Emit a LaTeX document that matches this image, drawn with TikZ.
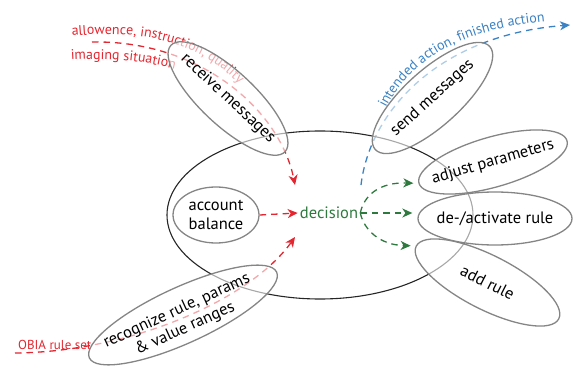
\documentclass[tikz,border=0pt]{standalone}
\usepackage{fontspec}
\setmainfont{PT Sans}
\usetikzlibrary{shapes.geometric,arrows.meta,decorations.text,backgrounds,calc}
\definecolor{lred}{HTML}{E3262F}
\definecolor{lblue}{HTML}{3A82C4}
\definecolor{lgreen}{HTML}{2E7A3E}
\definecolor{egray}{HTML}{858585}
\newcommand\labfont{\fontsize{14}{16}\selectfont}
\newcommand\obfont{\fontsize{13}{15}\selectfont}
\newcommand\elfont{\fontsize{16.5}{19.5}\selectfont}
\begin{document}
\begin{tikzpicture}[x=1pt,y=-1pt,
  ell/.style={ellipse, draw=egray, line width=1.3pt, fill=white, fill opacity=0.6, draw opacity=1, inner sep=0pt},
  etxt/.style={font=\elfont, text=black, inner sep=0pt, align=center},
  dline/.style={dash pattern=on 6.5pt off 5pt, line width=1.3pt},
  headed/.style={-{Stealth[length=10pt,width=9pt,inset=3pt]}}
]
\useasboundingbox (0,0) rectangle (573,366);

% main ellipse
\node[ellipse, draw=black!85, line width=1.1pt, minimum width=306pt, minimum height=168pt, inner sep=0pt] (main) at (320,215) {};

% inner nodes
\node[ell, minimum width=86pt, minimum height=56pt] (acc) at (216,215) {};
\node[etxt] (acct) at (acc) {account\\balance};
\node[font=\elfont, text=lgreen, inner sep=2pt] (dec) at (329,213) {decision};

% outer ellipses
\node[ell, minimum width=156pt, minimum height=54pt, rotate=-43] (rm) at (228,98.5) {};
\node[etxt, rotate=-43] (rmt) at (rm) {receive messages};

\node[ell, minimum width=154pt, minimum height=56pt, rotate=42] (sm) at (432.5,98) {};
\node[etxt, rotate=42] (smt) at (sm) {send messages};

\node[ell, minimum width=206pt, minimum height=56pt, rotate=24.6] (rr) at (183,315) {};
\node[etxt, rotate=24.6] (rrt) at ($(rr)+(-2,5)$) {recognize rule, params\\\& value ranges};

\node[ell, minimum width=154pt, minimum height=50pt, rotate=16] (adj) at (493,162) {};
\node[etxt, rotate=16] (adjt) at (adj) {adjust parameters};

\node[ell, minimum width=154pt, minimum height=53pt] (act) at (495,218.5) {};
\node[etxt] (actt) at (act) {de-/activate rule};

\node[ell, minimum width=160pt, minimum height=54pt, rotate=-27] (add) at (487.5,282.5) {};
\node[etxt, rotate=-27] (addt) at (add) {add rule};

% free ends
\coordinate (rmstart) at (92,42);
\coordinate (rmend) at (295,185);
\coordinate (obstart) at (15,353);
\coordinate (obend) at (295,237);
\coordinate (smstart) at (361,185);
\coordinate (smend) at (570,25);

\begin{pgfonlayer}{background}
  % red incoming
  \draw[lred, dline, headed] (rmstart) .. controls (200,40) and (280,110) .. (rmend);
  \draw[lred, dline, headed] (obstart) .. controls (130,352) and (250,300) .. (obend);
  \draw[lred, dline, headed] (acc.east) -- (dec.west);
  % blue outgoing
  \draw[lblue, dline, headed] (smstart) .. controls (370,110) and (440,35) .. (smend);
  % green
  \draw[lgreen, dline, headed, shorten >=5pt] (dec.east) .. controls (364,195) and (380,182) .. (adj.west);
  \draw[lgreen, dline, headed] (dec.east) -- ($(act.west |- dec.east)+(-5,0)$);
  \draw[lgreen, dline, headed, shorten >=5pt] (dec.east) .. controls (364,230) and (380,245) .. (add.west);
  % labels
  \path[decorate, decoration={text along path, text color=lred, text align=left,
      text={|\labfont|allowence, instruction, quality}}]
      (72,36) .. controls (150,28) and (212,45) .. (252,100);
  \path[decorate, decoration={text along path, text color=lred, text align=left,
      text={|\labfont|imaging situation}}]
      (71,60) .. controls (110,58) and (145,60) .. (185,72);
  \path[decorate, decoration={text along path, text color=lblue, text align=left,
      text={|\labfont|intended action, finished action}}]
      (386,108) .. controls (413,55) and (470,25) .. (565,20);
  \node[font=\obfont, text=lred, anchor=base west, inner sep=0pt] (obia) at (18,349) {OBIA rule set};
\end{pgfonlayer}
\end{tikzpicture}
\end{document}
